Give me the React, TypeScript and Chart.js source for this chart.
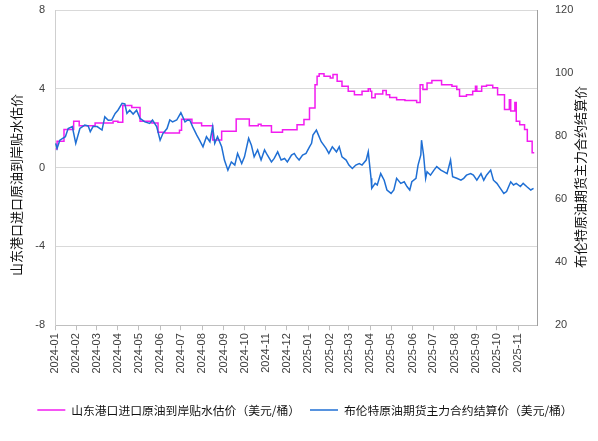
import React, { useEffect, useRef } from "react";
import { Chart, registerables } from "chart.js";

Chart.register(...registerables);

// Titles and legend labels
const leftTitle = "山东港口进口原油到岸贴水估价";
const rightTitle = "布伦特原油期货主力合约结算价";
const pinkLabel = "山东港口进口原油到岸贴水估价（美元/桶）";
const brentLabel = "布伦特原油期货主力合约结算价（美元/桶）";

// x axis: days since 2024-01-01, month-start ticks
const monthTickDay = [0, 31, 60, 91, 121, 152, 182, 213, 244, 274, 305, 335, 366, 397, 425, 456, 486, 517, 547, 578, 609, 639, 670];
const monthTickLabel = [
  "2024-01", "2024-02", "2024-03", "2024-04", "2024-05", "2024-06", "2024-07", "2024-08", "2024-09", "2024-10", "2024-11", "2024-12",
  "2025-01", "2025-02", "2025-03", "2025-04", "2025-05", "2025-06", "2025-07", "2025-08", "2025-09", "2025-10", "2025-11",
];
const xMaxDay = 697;

// Left axis series: 山东港口进口原油到岸贴水估价 (step series, value holds until next day listed)
const pinkDay = [1, 3, 13, 27, 35, 58, 84, 91, 98, 111, 123, 140, 149, 159, 180, 183, 198, 212, 228, 241, 262, 281, 294, 298, 313, 329, 350, 360, 368, 376, 379, 382, 389, 398, 402, 408, 415, 424, 433, 444, 453, 456, 458, 463, 474, 479, 484, 494, 506, 523, 528, 532, 538, 545, 559, 574, 581, 585, 595, 604, 608, 610, 617, 624, 633, 640, 650, 657, 659, 665, 667, 672, 679, 683, 690, 693];
const pinkValue = [0.95, 1.34, 1.93, 2.35, 2.13, 2.27, 2.35, 2.3, 3.15, 3.05, 2.35, 2.27, 1.8, 1.76, 1.9, 2.45, 2.27, 2.13, 1.4, 1.85, 2.47, 2.13, 2.2, 2.13, 1.8, 1.92, 2.18, 2.44, 3.03, 4.2, 4.64, 4.76, 4.64, 4.55, 4.72, 4.38, 4.13, 3.88, 3.7, 3.88, 4.0, 3.88, 3.54, 3.74, 3.91, 3.7, 3.56, 3.45, 3.4, 3.3, 4.2, 3.96, 4.3, 4.42, 4.2, 4.13, 3.96, 3.62, 3.7, 3.88, 4.13, 3.88, 4.13, 4.18, 4.05, 3.7, 2.95, 3.45, 2.87, 3.3, 2.35, 2.18, 1.93, 1.34, 0.75, 0.75];

// Right axis series: 布伦特原油期货主力合约结算价
const brentDay = [1, 3, 7, 15, 19, 25, 30, 36, 43, 48, 51, 55, 61, 68, 72, 77, 82, 87, 91, 97, 101, 104, 108, 113, 118, 123, 130, 137, 141, 147, 152, 156, 162, 166, 170, 176, 182, 188, 192, 195, 199, 205, 209, 214, 219, 224, 228, 231, 235, 241, 245, 250, 255, 260, 264, 270, 274, 280, 284, 288, 293, 298, 303, 307, 313, 317, 322, 327, 332, 336, 342, 346, 349, 353, 358, 363, 368, 371, 373, 378, 381, 385, 392, 396, 401, 407, 411, 415, 421, 425, 430, 435, 440, 444, 450, 453, 457, 458, 463, 466, 471, 476, 480, 486, 490, 494, 500, 505, 509, 513, 516, 522, 525, 529, 530, 533, 536, 538, 543, 548, 552, 558, 562, 567, 572, 575, 581, 587, 591, 595, 601, 605, 610, 616, 620, 624, 630, 634, 639, 644, 649, 653, 659, 663, 667, 673, 677, 682, 688, 692];
const brentValue = [77.7, 76.1, 78.7, 79.8, 82.4, 83, 77.7, 82.4, 83.5, 83.2, 81.4, 83, 83, 81.9, 86.1, 85, 85.1, 87.2, 88.2, 90.4, 90.2, 87.2, 88.2, 87, 88.2, 85.6, 84.5, 84, 85.1, 83, 78.7, 80.8, 82.4, 85.1, 84.5, 85.1, 87.4, 84.5, 85.1, 85, 83, 80.3, 78.7, 76.6, 79.8, 78.2, 83, 77.7, 79.8, 76.6, 72.4, 69.2, 71.8, 70.8, 74.5, 71.3, 73.4, 79.3, 77.1, 73.4, 75.6, 72.4, 75.6, 74, 71.8, 72.9, 75, 72.4, 72.9, 71.8, 74, 74.5, 73.4, 72.4, 74, 74.5, 76.6, 77.7, 80.3, 81.9, 80.3, 78.2, 76.1, 74.5, 76.6, 75, 76.6, 73.4, 72.4, 70.8, 69.7, 70.8, 71.3, 70.8, 72.4, 75, 66.6, 63.4, 65, 64.5, 68.1, 66, 62.9, 61.8, 62.9, 66.6, 65, 65.5, 64, 62.9, 65.5, 66.6, 70.8, 74, 78.7, 74, 66.6, 68.7, 67.6, 69.2, 70.3, 69.2, 68.7, 68.1, 72.4, 67.1, 66.6, 66, 66.6, 67.6, 68.1, 67.6, 66, 68.1, 66, 67.6, 69.2, 66, 65, 63.4, 61.8, 62.4, 65.5, 64.5, 65, 64, 65, 64, 62.9, 63.4];

const pinkColor = "#f21cf0";
const blueColor = "#1f6fd4";
const tickFont = { family: "'Liberation Sans', Arial, sans-serif", size: 11 };
const tickColor = "#404040";

const axisTitlePlugin = {
  id: "axisTitlesVertical",
  afterDraw(chart: any) {
    const ctx = chart.ctx;
    const drawTitle = (text: string, x: number, y: number) => {
      ctx.save();
      ctx.font = "13px 'Noto Sans CJK SC', sans-serif";
      ctx.fillStyle = "#111111";
      ctx.textAlign = "center";
      ctx.textBaseline = "middle";
      ctx.translate(x, y);
      ctx.rotate(-Math.PI / 2);
      ctx.fillText(text, 0, 0);
      ctx.restore();
    };
    drawTitle(leftTitle, 16.5, 185);
    drawTitle(rightTitle, 580, 177);
  },
};

export default function App() {
  const ref = useRef<HTMLCanvasElement>(null);

  useEffect(() => {
    document.body.style.margin = "0";
    const canvas = ref.current;
    if (!canvas) return;
    const chart = new Chart(canvas, {
      type: "line",
      data: {
        datasets: [
          {
            label: pinkLabel,
            data: pinkDay.map((d, i) => ({ x: d, y: pinkValue[i] })),
            yAxisID: "yLeft",
            borderColor: pinkColor,
            backgroundColor: pinkColor,
            borderWidth: 1.5,
            pointRadius: 0,
            stepped: true,
            order: 1,
          },
          {
            label: brentLabel,
            data: brentDay.map((d, i) => ({ x: d, y: brentValue[i] })),
            yAxisID: "yRight",
            borderColor: blueColor,
            backgroundColor: blueColor,
            borderWidth: 1.5,
            pointRadius: 0,
            tension: 0,
            order: 0,
          },
        ],
      },
      options: {
        animation: false,
        responsive: true,
        maintainAspectRatio: false,
        layout: { padding: { top: 10, bottom: 15, left: 12, right: 0 } },
        plugins: {
          legend: {
            position: "bottom",
            labels: {
              usePointStyle: true,
              pointStyle: "line",
              pointStyleWidth: 28,
              padding: 10,
              color: "#111111",
              font: { family: "'Noto Sans CJK SC', sans-serif", size: 11.8 },
              sort: (a: any, b: any) => a.datasetIndex - b.datasetIndex,
            },
          },
          tooltip: { enabled: false },
        },
        scales: {
          x: {
            type: "linear",
            min: 0,
            max: xMaxDay,
            afterBuildTicks: (axis: any) => {
              axis.ticks = monthTickDay.map((v) => ({ value: v }));
            },
            afterFit: (s: any) => {
              s.height = 69;
              s.paddingLeft = 0;
              s.paddingRight = 0;
            },
            ticks: {
              autoSkip: false,
              minRotation: 90,
              maxRotation: 90,
              padding: 3,
              font: tickFont,
              color: tickColor,
              callback: (_v: any, i: number) => monthTickLabel[i],
            },
            grid: { drawOnChartArea: false, tickLength: 5, color: "#bfbfbf" },
            border: { color: "#bfbfbf" },
          },
          yLeft: {
            type: "linear",
            position: "left",
            min: -8,
            max: 8,
            afterFit: (s: any) => {
              s.width = 43;
              s.paddingTop = 0;
              s.paddingBottom = 0;
            },
            ticks: { stepSize: 4, padding: 10, font: tickFont, color: tickColor },
            grid: { color: "#d9d9d9", drawTicks: false },
            border: { color: "#cfcfcf" },
          },
          yRight: {
            type: "linear",
            position: "right",
            min: 20,
            max: 120,
            afterFit: (s: any) => {
              s.width = 61;
              s.paddingTop = 0;
              s.paddingBottom = 0;
            },
            ticks: { stepSize: 20, padding: 10, font: tickFont, color: tickColor },
            grid: { display: false },
            border: { color: "#a0a0a0" },
          },
        },
      },
      plugins: [axisTitlePlugin],
    } as any);
    return () => chart.destroy();
  }, []);

  return (
    <div style={{ width: 598, height: 441, position: "relative" }}>
      <canvas ref={ref} />
    </div>
  );
}
